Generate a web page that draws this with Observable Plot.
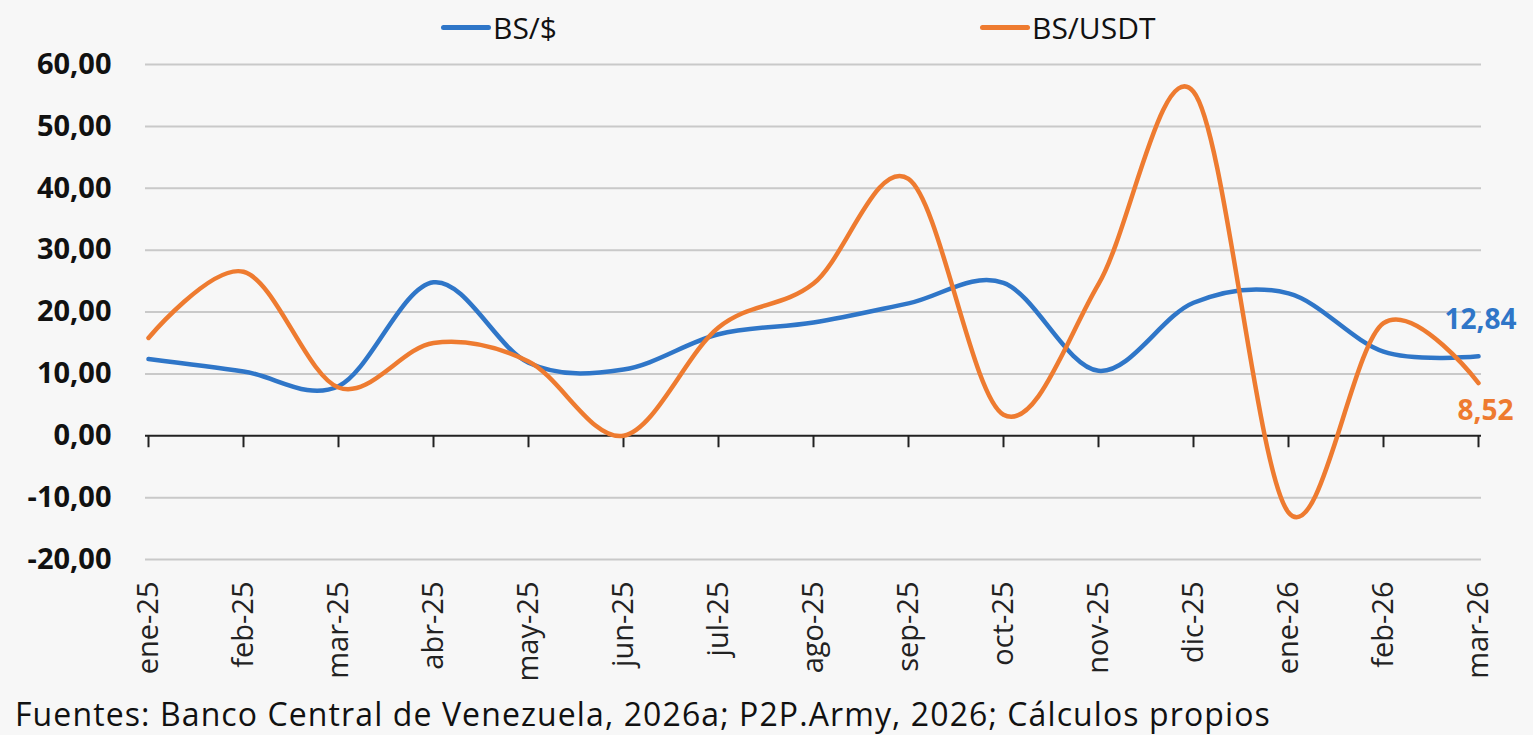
<!DOCTYPE html>
<html><head><meta charset="utf-8">
<script src="https://cdn.jsdelivr.net/npm/d3@7"></script>
<script src="https://cdn.jsdelivr.net/npm/@observablehq/plot@0.6"></script>
<style>
body{margin:0;background:#f7f7f7;width:1533px;height:735px;overflow:hidden;position:relative;font-family:"Open Sans",sans-serif}
#legend{position:absolute;top:0;left:0;width:1533px;height:56px}
.item{position:absolute;top:7px;height:40px;display:flex;align-items:center;font-size:30px;color:#111;white-space:nowrap}
.sw{display:inline-block;width:50px;height:5px;border-radius:3px;margin-right:2px}
#chart{position:absolute;top:0;left:0}
#caption{position:absolute;left:15px;top:692px;font-size:32px;letter-spacing:1.1px;color:#111;white-space:nowrap}
</style></head><body>
<div id="chart"></div>
<div id="legend"></div>
<div id="caption"></div>
<script>
const months = ["ene-25","feb-25","mar-25","abr-25","may-25","jun-25","jul-25","ago-25","sep-25","oct-25","nov-25","dic-25","ene-26","feb-26","mar-26"];
const bsUsd  = [12.4, 10.4, 8.0, 24.8, 11.8, 10.7, 16.4, 18.3, 21.4, 24.7, 10.5, 21.5, 23.0, 13.6, 12.84];
const bsUsdt = [15.8, 26.5, 7.8, 15.0, 12.0, 0.0, 17.5, 24.6, 41.5, 3.4, 24.5, 55.6, -12.4, 18.2, 8.52];
const seriesNames = ["BS/$", "BS/USDT"];
const seriesColors = ["#2f76c8", "#ee7b30"];
const yTicks = [-20, -10, 0, 10, 20, 30, 40, 50, 60];
const captionText = "Fuentes: Banco Central de Venezuela, 2026a; P2P.Army, 2026; Cálculos propios";

const fmt = v => v.toFixed(2).replace(".", ",");
const rows = [];
months.forEach((m, i) => {
  rows.push({month: m, value: bsUsd[i], series: seriesNames[0]});
  rows.push({month: m, value: bsUsdt[i], series: seriesNames[1]});
});
const lastBlue = [{month: months[months.length-1], value: bsUsd[bsUsd.length-1], series: seriesNames[0]}];
const lastOrange = [{month: months[months.length-1], value: bsUsdt[bsUsdt.length-1], series: seriesNames[1]}];

const chart = Plot.plot({
  width: 1533, height: 690,
  marginLeft: 145, marginRight: 52, marginTop: 64, marginBottom: 131,
  style: {background: "transparent", fontFamily: "Open Sans", overflow: "visible"},
  x: {type: "point", domain: months, padding: 0},
  y: {domain: [-20, 60]},
  color: {domain: seriesNames, range: seriesColors},
  marks: [
    Plot.gridY(yTicks.filter(v => v !== 0), {stroke: "#c9c9c9", strokeOpacity: 1, strokeWidth: 2}),
    Plot.axisY(yTicks, {tickSize: 0, tickPadding: 34, tickFormat: fmt, fontSize: 29, fontWeight: 700, fill: "#111", label: null}),
    Plot.axisX({tickSize: 0, tickPadding: 22, tickRotate: -90, fontSize: 29, fill: "#222", label: null}),
    Plot.ruleY([0], {stroke: "#222", strokeWidth: 2}),
    Plot.ruleX(months, {x: d => d, y1: 0, y2: 0, insetBottom: -12, stroke: "#222", strokeWidth: 2}),
    Plot.line(rows, {x: "month", y: "value", z: "series", stroke: "series", curve: "cardinal", tension: 0, strokeWidth: 4.5}),
    Plot.text(lastBlue, {x: "month", y: "value", text: d => fmt(d.value), dy: -36, dx: 2, fill: seriesColors[0], fontSize: 28, fontWeight: 700}),
    Plot.text(lastOrange, {x: "month", y: "value", text: d => fmt(d.value), dy: 28, dx: 7, fill: seriesColors[1], fontSize: 28, fontWeight: 700})
  ]
});
document.getElementById("chart").append(chart);

const legend = document.getElementById("legend");
const legendLeft = [441, 980];
seriesNames.forEach((name, i) => {
  const it = document.createElement("div");
  it.className = "item";
  it.style.left = legendLeft[i] + "px";
  it.innerHTML = `<span class="sw" style="background:${seriesColors[i]}"></span><span>${name}</span>`;
  legend.append(it);
});
document.getElementById("caption").textContent = captionText;
</script>
</body></html>
